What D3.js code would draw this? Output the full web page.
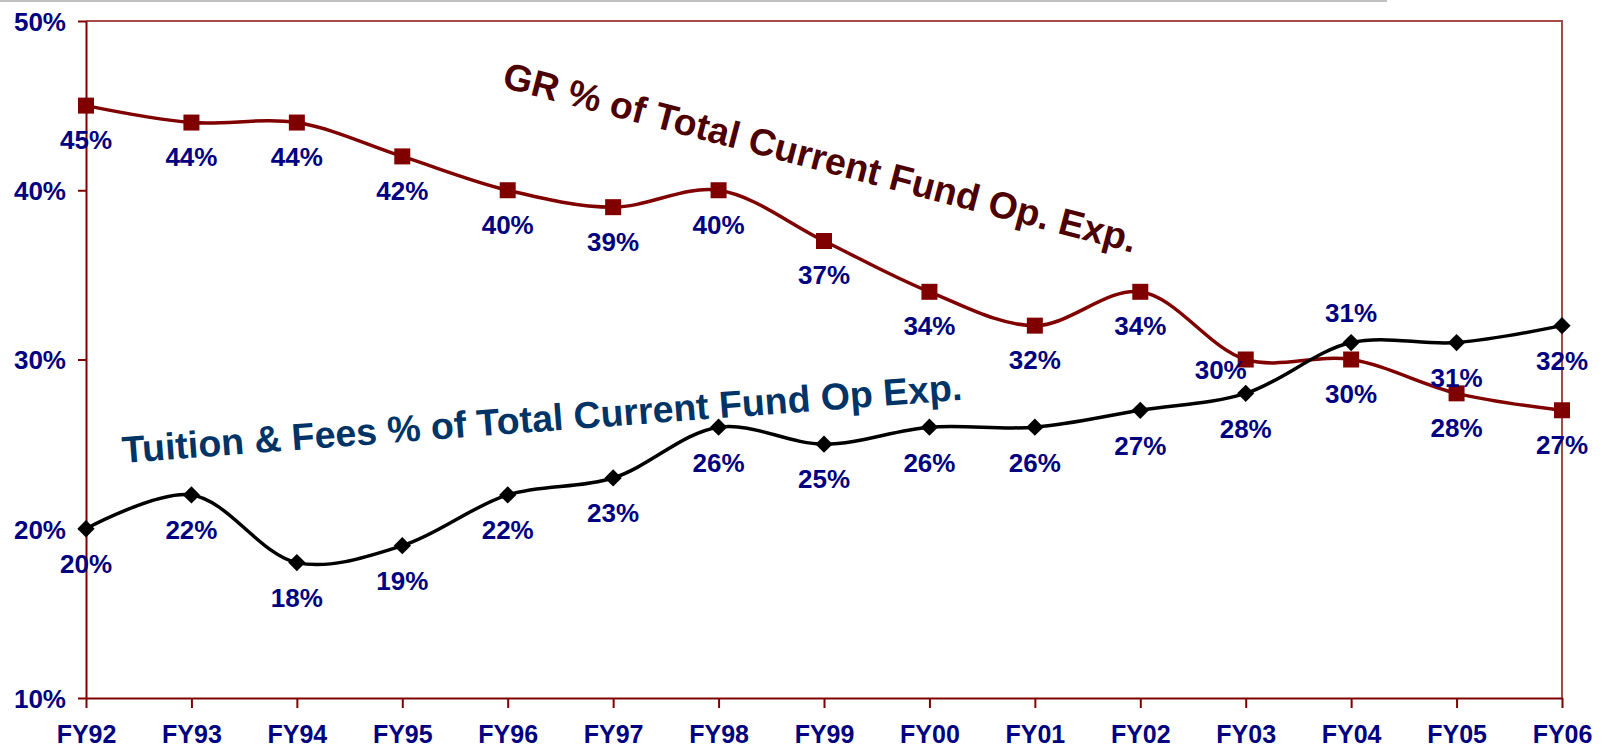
<!DOCTYPE html>
<html>
  <head>
    <meta charset="utf-8">
    <title>GR and Tuition share of current fund operating expenses</title>
    <script src="https://d3js.org/d3.v7.min.js"></script>
    <style>
      body { margin: 0; background: #fff; }
      svg { display: block; font-family: "Liberation Sans", Arial, sans-serif; font-weight: bold; }
      .tickLabel { fill: #000080; font-size: 25px; }
      .yLabel { font-size: 26px; }
      .dataLabel { fill: #000080; font-size: 26px; }
    </style>
  </head>
  <body>
    <svg id="chart" width="1606" height="749"></svg>
    <script>
      // data
      var years = ["FY92", "FY93", "FY94", "FY95", "FY96", "FY97", "FY98", "FY99",
                   "FY00", "FY01", "FY02", "FY03", "FY04", "FY05", "FY06"];
      var grPct = [45, 44, 44, 42, 40, 39, 40, 37, 34, 32, 34, 30, 30, 28, 27];
      var tuitionPct = [20, 22, 18, 19, 22, 23, 26, 25, 26, 26, 27, 28, 31, 31, 32];
      var yTicks = [10, 20, 30, 40, 50];

      var margin = { top: 21, right: 44, bottom: 51, left: 86 };
      var width = 1606, height = 749;
      var chart = d3.select("#chart");

      // thin grey rule along the top edge
      chart.append("line")
        .attr("x1", 0).attr("x2", 1387)
        .attr("y1", 1).attr("y2", 1)
        .attr("stroke", "#c0c0c0").attr("stroke-width", 2);

      var x = d3.scalePoint()
        .domain(years)
        .range([margin.left, width - margin.right]);
      var y = d3.scaleLinear()
        .domain([10, 50])
        .range([height - margin.bottom, margin.top]);

      // plot area border (top and right)
      chart.append("path")
        .attr("d", "M" + margin.left + "," + y(50) + "H" + x("FY06") + "V" + y(10))
        .attr("fill", "none")
        .attr("stroke", "#a84a4a")
        .attr("stroke-width", 2);

      var xAxis = d3.axisBottom(x)
        .tickSizeInner(10)
        .tickSizeOuter(0)
        .tickPadding(20);
      var yAxis = d3.axisLeft(y)
        .tickValues(yTicks)
        .tickFormat(function(d) { return d + "%"; })
        .tickSizeInner(8)
        .tickSizeOuter(0)
        .tickPadding(12);

      var xAxisGroup = chart.append("g")
        .attr("transform", "translate(0," + y(10) + ")")
        .call(xAxis);
      xAxisGroup.selectAll("text")
        .attr("class", "tickLabel")
        .attr("fill", null)
        .attr("dy", "0.6em");
      var yAxisGroup = chart.append("g")
        .attr("transform", "translate(" + margin.left + ",0)")
        .call(yAxis);
      yAxisGroup.selectAll("text")
        .attr("class", "tickLabel yLabel")
        .attr("fill", null)
        .attr("x", -20)
        .attr("dy", "0.36em");
      chart.selectAll(".domain, .tick line")
        .attr("stroke", "#800000")
        .attr("stroke-width", 2);

      var line = d3.line()
        .x(function(d, i) { return x(years[i]); })
        .y(function(d) { return y(d); })
        .curve(d3.curveCatmullRom.alpha(0.5));

      // GR series
      chart.append("path")
        .attr("d", line(grPct))
        .attr("fill", "none")
        .attr("stroke", "#800000")
        .attr("stroke-width", 3.5);
      chart.selectAll(".grMarker")
        .data(grPct)
        .join("rect")
          .attr("class", "grMarker")
          .attr("x", function(d, i) { return x(years[i]) - 8; })
          .attr("y", function(d) { return y(d) - 8; })
          .attr("width", 16)
          .attr("height", 16)
          .attr("fill", "#800000");

      // tuition series
      chart.append("path")
        .attr("d", line(tuitionPct))
        .attr("fill", "none")
        .attr("stroke", "#000000")
        .attr("stroke-width", 3.5);
      chart.selectAll(".tuitionMarker")
        .data(tuitionPct)
        .join("path")
          .attr("class", "tuitionMarker")
          .attr("d", d3.symbol(d3.symbolDiamond2, 190))
          .attr("transform", function(d, i) { return "translate(" + x(years[i]) + "," + y(d) + ")"; })
          .attr("fill", "#000000");

      // data labels: below the marker unless moved
      var grLeft = ["FY03"];
      var tuitionAbove = ["FY04"];
      function addLabels(values, cls, place) {
        chart.selectAll("." + cls)
          .data(values)
          .join("text")
            .attr("class", "dataLabel " + cls)
            .attr("text-anchor", "middle")
            .attr("dy", "0.36em")
            .attr("x", function(d, i) { return x(years[i]) + place(years[i]).dx; })
            .attr("y", function(d, i) { return y(d) + place(years[i]).dy; })
            .text(function(d) { return d + "%"; });
      }
      addLabels(grPct, "grLabel", function(yr) {
        return grLeft.indexOf(yr) >= 0 ? { dx: -25, dy: 10 } : { dx: 0, dy: 34 };
      });
      addLabels(tuitionPct, "tuitionLabel", function(yr) {
        return tuitionAbove.indexOf(yr) >= 0 ? { dx: 0, dy: -30 } : { dx: 0, dy: 35 };
      });

      // series titles
      chart.append("text")
        .attr("transform", "translate(501,87) rotate(14.7)")
        .attr("fill", "#4d0000")
        .style("font-size", "37.5px")
        .text("GR % of Total Current Fund Op. Exp.");
      chart.append("text")
        .attr("transform", "translate(123,463) rotate(-4.3)")
        .attr("fill", "#003366")
        .style("font-size", "37.5px")
        .text("Tuition & Fees % of Total Current Fund Op Exp.");
    </script>
  </body>
</html>
